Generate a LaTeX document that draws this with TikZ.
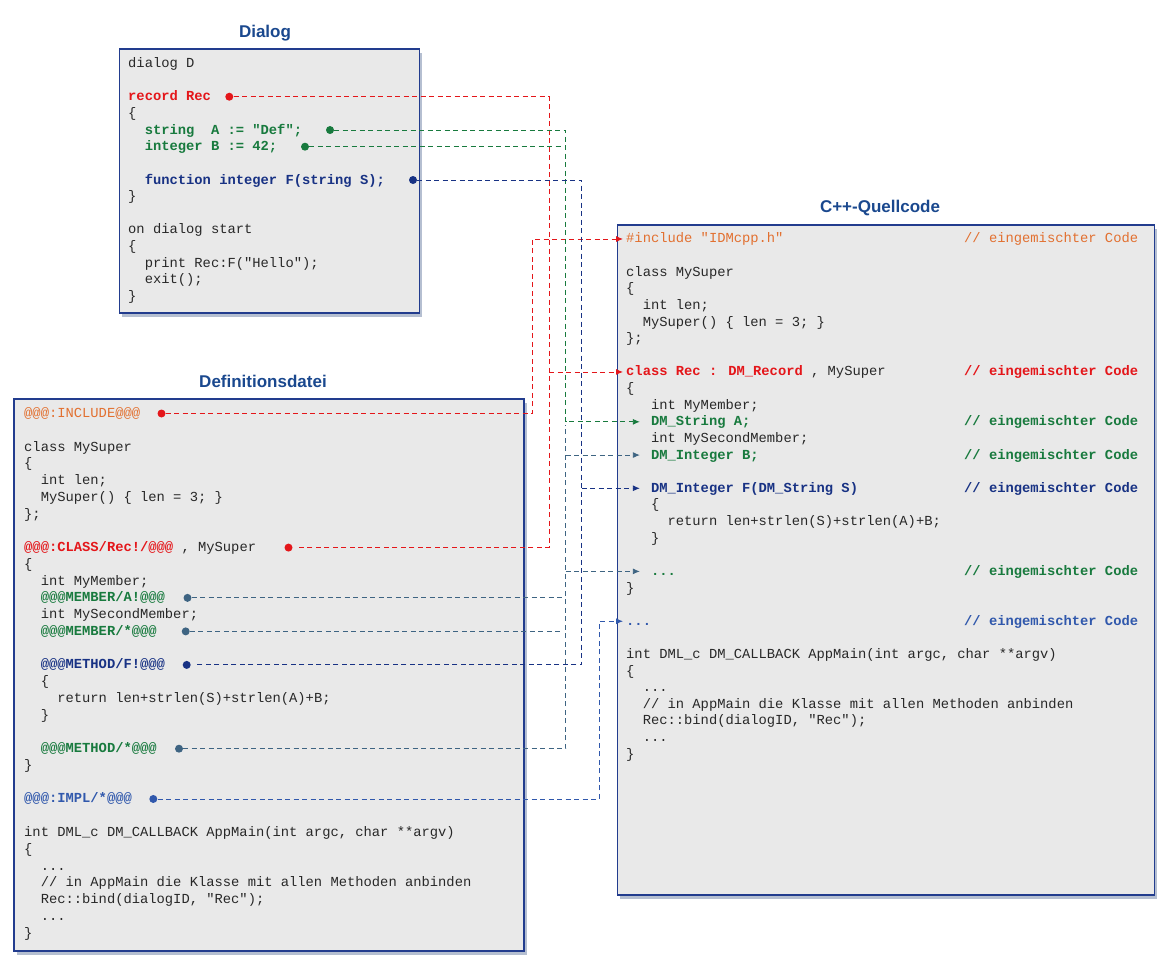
\documentclass[tikz,border=0pt]{standalone}
\usepackage{fontspec}
\newfontfamily\codefont{Liberation Mono}
\newfontfamily\headfont{Liberation Sans}
\usetikzlibrary{arrows.meta,shadows}

\definecolor{cText}{RGB}{40,40,40}
\definecolor{cRed}{RGB}{228,22,26}
\definecolor{cOrange}{RGB}{226,112,48}
\definecolor{cGreen}{RGB}{24,122,62}
\definecolor{cDarkBlue}{RGB}{24,50,132}
\definecolor{cBlue}{RGB}{48,88,172}
\definecolor{cTeal}{RGB}{62,100,130}
\definecolor{cFill}{RGB}{233,233,233}
\definecolor{cFrame}{RGB}{34,60,142}
\definecolor{cHead}{RGB}{26,72,142}
\definecolor{cShadow}{RGB}{150,164,190}

\newcommand{\hlred}[1]{{\color{cRed}\bfseries #1}}
\newcommand{\hlorg}[1]{{\color{cOrange}#1}}
\newcommand{\hlgrn}[1]{{\color{cGreen}\bfseries #1}}
\newcommand{\hldbl}[1]{{\color{cDarkBlue}\bfseries #1}}
\newcommand{\hlblu}[1]{{\color{cBlue}\bfseries #1}}

\tikzset{
  box/.style={rectangle, anchor=north west, draw=cFrame, line width=1.3pt, fill=cFill,
    drop shadow={shadow xshift=3pt, shadow yshift=-4pt, fill=cShadow, opacity=0.7}},
  heading/.style={font=\headfont\bfseries\fontsize{17}{20}\selectfont, text=cHead},
  code/.style={anchor=west, inner xsep=0pt, inner ysep=0pt, text height=10pt, text depth=2pt,
    font=\codefont\fontsize{13.8}{16}\selectfont, text=cText},
  link/.style={dash pattern=on 5pt off 3.5pt, line width=0.9pt, shorten >=3pt},
  knob/.style={circle, inner sep=0pt, minimum size=8pt}
}

\begin{document}
\begin{tikzpicture}[x=1pt,y=-1pt,>={Latex[length=7pt,width=6pt]}]
    \useasboundingbox (0,0) rectangle (1167,965);

    % boxes
    \node[box, minimum width=300pt, minimum height=264pt] (dialogbox) at (118.5,48.3) {};
    \node[box, minimum width=510pt, minimum height=552pt] (defbox) at (13.3,398.3) {};
    \node[box, minimum width=537pt, minimum height=670pt] (cppbox) at (616.7,224.3) {};

    \node[heading] (dialoghead) at (265,33) {Dialog};
    \node[heading] (defhead) at (263,381) {Definitionsdatei};
    \node[heading] (cpphead) at (880,208) {C++-Quellcode};

    % Dialog
    \foreach \n/\t [count=\i from 0] in {0/{dialog D}, 0/{}, 0/{\hlred{record Rec}}, 0/\{,
        2/{\hlgrn{string\ \ A := "Def";}}, 2/{\hlgrn{integer B := 42;}}, 0/{},
        2/{\hldbl{function integer F(string S);}}, 0/\}, 0/{}, 0/{on dialog start}, 0/\{,
        2/{print Rec:F("Hello");}, 2/{exit();}, 0/\}}
        \node[code] (dlg-\i) at (128+8.28*\n, 63.4+16.66*\i) {\t};

    % Definitionsdatei
    \foreach \n/\t [count=\i from 0] in {0/{\hlorg{@@@:INCLUDE@@@}}, 0/{}, 0/{class MySuper}, 0/\{,
        2/{int len;}, 2/{MySuper() \{ len = 3; \}}, 0/{\};}, 0/{},
        0/{\hlred{@@@:CLASS/Rec!/@@@} , MySuper}, 0/\{, 2/{int MyMember;},
        2/{\hlgrn{@@@MEMBER/A!@@@}}, 2/{int MySecondMember;}, 2/{\hlgrn{@@@MEMBER/*@@@}}, 0/{},
        2/{\hldbl{@@@METHOD/F!@@@}}, 2/\{, 4/{return len+strlen(S)+strlen(A)+B;}, 2/\}, 0/{},
        2/{\hlgrn{@@@METHOD/*@@@}}, 0/\}, 0/{}, 0/{\hlblu{@@@:IMPL/*@@@}}, 0/{},
        0/{int DML\_c DM\_CALLBACK AppMain(int argc, char **argv)}, 0/\{, 2/{{...}},
        2/{// in AppMain die Klasse mit allen Methoden anbinden},
        2/{Rec::bind(dialogID, "Rec");}, 2/{{...}}, 0/\}}
        \node[code] (def-\i) at (24+8.28*\n, 413.5+16.76*\i) {\t};

    % C++-Quellcode
    \foreach \n/\t [count=\i from 0] in {0/{\hlorg{\#include "IDMcpp.h"}}, 0/{}, 0/{class MySuper}, 0/\{,
        2/{int len;}, 2/{MySuper() \{ len = 3; \}}, 0/{\};}, 0/{},
        0/{\hlred{class Rec : DM\_Record} , MySuper}, 0/\{, 3/{int MyMember;},
        3/{\hlgrn{DM\_String A;}}, 3/{int MySecondMember;}, 3/{\hlgrn{DM\_Integer B;}}, 0/{},
        3/{\hldbl{DM\_Integer F(DM\_String S)}}, 3/\{, 5/{return len+strlen(S)+strlen(A)+B;}, 3/\}, 0/{},
        3/{\hlgrn{...}}, 0/\}, 0/{}, 0/{\hlblu{...}}, 0/{},
        0/{int DML\_c DM\_CALLBACK AppMain(int argc, char **argv)}, 0/\{, 2/{{...}},
        2/{// in AppMain die Klasse mit allen Methoden anbinden},
        2/{Rec::bind(dialogID, "Rec");}, 2/{{...}}, 0/\}}
        \node[code] (cpp-\i) at (626+8.28*\n, 239+16.62*\i) {\t};

    \foreach \i/\fmt in {0/\hlorg, 8/\hlred, 11/\hlgrn, 13/\hlgrn, 15/\hldbl, 20/\hlgrn, 23/\hlblu}
        \node[code] (cmt-\i) at (964, 239+16.62*\i) {\fmt{// eingemischter Code}};

    % dots
    \node[knob, fill=cRed] (recdot) at (229.3, 63.4+16.66*2) {};
    \node[knob, fill=cGreen] (adot) at (330, 63.4+16.66*4) {};
    \node[knob, fill=cGreen] (bdot) at (305, 63.4+16.66*5) {};
    \node[knob, fill=cDarkBlue] (fdot) at (413, 63.4+16.66*7) {};
    \node[knob, fill=cRed] (incldot) at (161.5, 413.5) {};
    \node[knob, fill=cRed] (classdot) at (288.5, 413.5+16.76*8) {};
    \node[knob, fill=cTeal] (memadot) at (187.5, 413.5+16.76*11) {};
    \node[knob, fill=cTeal] (memalldot) at (185.7, 413.5+16.76*13) {};
    \node[knob, fill=cDarkBlue] (methfdot) at (186.7, 413.5+16.76*15) {};
    \node[knob, fill=cTeal] (methalldot) at (179, 413.5+16.76*20) {};
    \node[knob, fill=cBlue] (impldot) at (153.3, 413.5+16.76*23) {};

    \coordinate (inclbus) at (532.3,0);
    \coordinate (recbus) at (549,0);
    \coordinate (membus) at (565.7,0);
    \coordinate (funcbus) at (581.6,0);
    \coordinate (implbus) at (599.3,0);

    % record / class
    \draw[link, cRed] (recdot) -| (classdot -| recbus) -- (classdot);
    \draw[link, cRed, ->] (cpp-8 -| recbus) -- (cpp-8.west);
    \draw[link, cRed, ->] (incldot) -| (cpp-0 -| inclbus) -- (cpp-0.west);
    % members
    \draw[link, cGreen, ->, shorten >=11pt] (adot) -| (cpp-11 -| membus) -- (cpp-11.west);
    \draw[link, cGreen] (bdot) -- (bdot -| membus);
    \draw[link, cTeal] (methalldot) -| (cpp-11 -| membus);
    \draw[link, cTeal] (memadot) -- (memadot -| membus);
    \draw[link, cTeal] (memalldot) -- (memalldot -| membus);
    \draw[link, cTeal, ->, shorten >=11pt] (cpp-13 -| membus) -- (cpp-13.west);
    \draw[link, cTeal, ->, shorten >=11pt] (cpp-20 -| membus) -- (cpp-20.west);
    % methods
    \draw[link, cDarkBlue] (fdot) -| (methfdot -| funcbus) -- (methfdot);
    \draw[link, cDarkBlue, ->, shorten >=11pt] (cpp-15 -| funcbus) -- (cpp-15.west);
    \draw[link, cBlue, ->] (impldot) -| (cpp-23 -| implbus) -- (cpp-23.west);
\end{tikzpicture}
\end{document}
